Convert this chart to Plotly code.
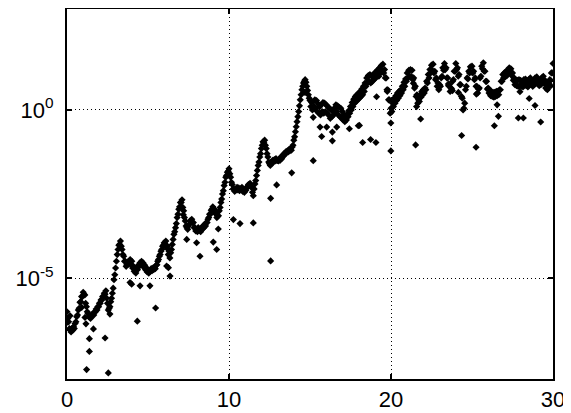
import plotly.graph_objects as go

# main band: x = 0.0, 0.1, ..., 30.0 ; values are log10 of the plotted quantity
main_x = [round(0.1 * i, 2) for i in range(301)]
main_log10 = [
    -6.0, -6.3, -6.55, -6.5, -6.45, -6.35, -6.15, -5.95, -5.72, -5.55,
    -5.42, -5.5, -5.85, -6.05, -6.12, -6.1, -6.07, -6.0, -5.92, -5.85,
    -5.75, -5.65, -5.55, -5.45, -5.38, -5.75, -5.9, -5.7, -5.45, -5.05,
    -4.7, -4.3, -4.02, -3.9, -4.15, -4.35, -4.5, -4.6, -4.5, -4.45,
    -4.5, -4.65, -4.72, -4.75, -4.62, -4.55, -4.5, -4.55, -4.62, -4.7,
    -4.75, -4.78, -4.72, -4.7, -4.68, -4.62, -4.5, -4.35, -4.2, -4.05,
    -3.95, -3.9, -4.05, -4.2, -4.25, -4.0, -3.7, -3.5, -3.2, -2.95,
    -2.75, -2.67, -3.0, -3.3, -3.5, -3.45, -3.3, -3.25, -3.35, -3.5,
    -3.55, -3.5, -3.55, -3.5, -3.45, -3.4, -3.35, -3.25, -3.1, -2.98,
    -2.88, -2.95, -3.1, -3.15, -3.0, -2.75, -2.5, -2.25, -2.0, -1.85,
    -1.75, -2.0, -2.22, -2.35, -2.38, -2.3, -2.32, -2.35, -2.3, -2.38,
    -2.4, -2.3, -2.22, -2.18, -2.3, -2.55, -2.2, -1.95, -1.65, -1.4,
    -1.15, -0.95, -0.9, -1.15, -1.4, -1.6, -1.55, -1.5, -1.48, -1.45,
    -1.5, -1.45, -1.42, -1.35, -1.3, -1.25, -1.22, -1.18, -1.15, -1.1,
    -0.9, -0.65, -0.35, -0.05, 0.3, 0.6, 0.8, 0.9, 0.7, 0.45,
    0.28, 0.22, 0.25, 0.3, 0.28, 0.18, 0.1, 0.15, 0.22, 0.2,
    0.15, 0.1, 0.05, 0.0, -0.02, 0.05, 0.15, 0.12, 0.08, 0.05,
    -0.05, -0.15, -0.2, -0.12, -0.02, 0.1, 0.22, 0.32, 0.4, 0.45,
    0.5, 0.55, 0.62, 0.7, 0.8, 0.95, 1.02, 1.05, 1.0, 1.05,
    1.1, 1.15, 1.2, 1.25, 1.32, 1.36, 1.2, 0.95, 0.6, 0.3,
    0.05, 0.2, 0.35, 0.42, 0.5, 0.55, 0.6, 0.7, 0.82, 0.92,
    1.1, 1.18, 1.2, 1.18, 0.95, 0.7, 0.45, 0.3, 0.45, 0.55,
    0.6, 0.65, 0.85, 1.05, 1.2, 1.33, 1.36, 1.15, 0.95, 0.8,
    0.75, 0.95, 1.25, 1.38, 1.25, 0.95, 0.75, 0.65, 0.85, 1.15,
    1.38, 1.25, 1.05, 0.75, 0.35, 0.05, 0.6, 0.95, 1.15, 1.28,
    1.3, 1.15, 0.95, 0.7, 0.62, 0.95, 1.3, 1.4, 1.15, 0.85,
    0.65, 0.57, 0.55, 0.52, 0.52, 0.55, 0.55, 0.6, 0.85, 1.05,
    1.1, 1.15, 1.18, 1.25, 1.22, 1.1, 0.95, 0.9, 0.88, 0.9,
    0.88, 0.85, 0.9, 0.92, 0.85, 0.9, 0.95, 0.88, 0.85, 0.95,
    0.98, 0.9, 0.85, 0.95, 1.0, 0.88, 0.72, 0.8, 0.9, 1.1,
    1.38,
]

# second band: x = 0.05, 0.15, ..., 29.95
band_x = [round(0.05 + 0.1 * i, 2) for i in range(300)]
band_log10 = [
    -6.2, -6.5, -6.6, -6.55, -6.5, -6.3, -6.1, -5.9, -5.7, -5.55,
    -5.48, -5.75, -6.0, -6.15, -6.2, -6.12, -6.1, -6.0, -5.95, -5.85,
    -5.75, -5.65, -5.55, -5.48, -5.6, -5.95, -5.85, -5.6, -5.3, -4.9,
    -4.5, -4.15, -4.0, -4.05, -4.3, -4.5, -4.65, -4.6, -4.55, -4.6,
    -4.7, -4.8, -4.85, -4.75, -4.65, -4.6, -4.62, -4.68, -4.75, -4.82,
    -4.85, -4.8, -4.78, -4.75, -4.72, -4.6, -4.45, -4.3, -4.15, -4.02,
    -4.0, -4.1, -4.3, -4.4, -4.15, -3.85, -3.62, -3.38, -3.1, -2.88,
    -2.75, -2.9, -3.2, -3.45, -3.55, -3.4, -3.3, -3.35, -3.5, -3.6,
    -3.62, -3.58, -3.62, -3.55, -3.5, -3.45, -3.35, -3.2, -3.1, -2.95,
    -2.95, -3.05, -3.2, -3.15, -2.9, -2.65, -2.4, -2.15, -1.95, -1.82,
    -1.9, -2.15, -2.35, -2.42, -2.38, -2.38, -2.4, -2.38, -2.42, -2.45,
    -2.38, -2.28, -2.25, -2.28, -2.45, -2.35, -2.1, -1.8, -1.55, -1.3,
    -1.05, -0.98, -1.05, -1.3, -1.55, -1.65, -1.58, -1.55, -1.52, -1.5,
    -1.52, -1.5, -1.45, -1.38, -1.32, -1.28, -1.25, -1.22, -1.2, -1.05,
    -0.8, -0.5, -0.2, 0.12, 0.45, 0.7, 0.85, 0.82, 0.58, 0.35,
    0.1, 0.0, 0.1, 0.05, -0.05, -0.1, -0.15, -0.05, -0.1, -0.05,
    -0.1, -0.15, -0.25, -0.2, -0.15, -0.1, -0.05, -0.15, -0.2, -0.25,
    -0.3, -0.35, -0.3, -0.2, -0.1, 0.0, 0.1, 0.2, 0.25, 0.3,
    0.35, 0.4, 0.45, 0.55, 0.7, 0.8, 0.85, 0.8, 0.85, 0.9,
    0.95, 1.0, 1.0, 1.1, 1.15, 1.1, 0.95, 0.6, 0.3, -0.1,
    -0.05, 0.1, 0.2, 0.28, 0.35, 0.42, 0.5, 0.6, 0.7, 0.85,
    0.95, 1.0, 1.0, 0.9, 0.65, 0.4, 0.2, 0.25, 0.38, 0.45,
    0.5, 0.6, 0.8, 0.95, 1.1, 1.18, 1.1, 0.9, 0.7, 0.6,
    0.7, 1.0, 1.18, 1.2, 0.95, 0.72, 0.55, 0.62, 0.9, 1.15,
    1.2, 1.0, 0.75, 0.4, 0.0, 0.2, 0.7, 0.92, 1.1, 1.12,
    1.1, 0.9, 0.7, 0.5, 0.65, 1.0, 1.22, 1.15, 0.85, 0.62,
    0.5, 0.42, 0.4, 0.38, 0.4, 0.42, 0.45, 0.6, 0.85, 0.95,
    0.98, 1.02, 1.08, 1.1, 1.02, 0.88, 0.75, 0.72, 0.7, 0.72,
    0.7, 0.68, 0.75, 0.72, 0.68, 0.75, 0.78, 0.7, 0.75, 0.8,
    0.8, 0.72, 0.75, 0.82, 0.8, 0.65, 0.6, 0.72, 0.88, 1.1,
]

# scattered lower points
outlier_x = [
    1.21, 2.55, 1.38, 1.38, 2.35, 1.63, 1.17, 2.65, 4.34, 5.47,
    3.99, 4.51, 6.36, 8.21, 8.0, 9.03, 9.24, 9.34, 10.27, 10.68,
    11.5, 12.57, 12.57, 12.94, 13.87, 7.39, 7.18, 6.15, 6.26, 3.89,
    5.12, 0.91, 1.11, 0.02, 0.19,
    15.2, 15.72, 16.38, 15.62, 16.03, 16.38, 16.65, 17.43, 18.05, 18.25,
    18.74, 19.07, 19.99, 19.99, 21.52, 21.83, 24.36, 25.25, 26.38, 26.63,
    27.86, 28.17, 29.24, 28.89, 28.53, 27.96, 17.98, 19.11, 19.77, 21.38,
    21.58, 23.54, 23.79, 25.27, 24.16, 26.55, 29.66, 29.87, 15.2, 14.69,
]
outlier_log10 = [
    -7.72, -7.82, -7.18, -6.8, -6.78, -6.51, -6.36, -6.07, -6.28, -5.89,
    -5.18, -5.23, -4.94, -4.35, -3.95, -3.93, -4.15, -3.54, -3.26, -3.38,
    -3.36, -4.49, -2.63, -2.23, -1.87, -3.85, -3.12, -4.64, -4.69, -5.13,
    -5.23, -5.87, -6.17, -6.31, -6.12,
    -1.51, -0.79, -0.92, -0.51, -0.51, -0.66, -0.51, -0.56, -0.46, -0.97,
    -0.88, -0.97, -1.22, -0.39, -1.04, -0.27, -0.76, -1.11, -0.47, -0.19,
    -0.24, -0.24, -0.36, 0.13, 0.34, 0.54, -0.47, 0.39, 0.55, 0.79,
    0.10, 0.77, 0.57, 0.47, 0.52, 0.15, 0.62, 0.72, -0.22, 0.52,
]

x_ticks = [0, 10, 20, 30]
x_tick_labels = ["0", "10", "20", "30"]
y_ticks = [1e-5, 1e0]
y_tick_labels = ["10<sup>-5</sup>", "10<sup>0</sup>"]

all_x = main_x + band_x + outlier_x
all_y = [10 ** v for v in main_log10 + band_log10 + outlier_log10]

fig = go.Figure()
fig.add_trace(go.Scatter(
    x=all_x, y=all_y, mode="markers",
    marker=dict(symbol="diamond", size=5.5, color="black", line=dict(width=0)),
    showlegend=False, hoverinfo="skip",
))

axis_common = dict(
    showline=True, linecolor="black", linewidth=2, mirror="ticks",
    ticks="inside", ticklen=5, tickwidth=2, tickcolor="black",
    showgrid=True, gridcolor="black", gridwidth=1, griddash="1px,3px",
    zeroline=False, automargin=False,
    tickfont=dict(family="Liberation Sans, Arial, sans-serif", size=22, color="black"),
)

# the page body adds an 8px offset, so the figure is 8px smaller than the window
fig.update_layout(
    width=563, height=405,
    margin=dict(l=59, r=18, t=1, b=34),
    paper_bgcolor="white", plot_bgcolor="white",
    xaxis=dict(range=[0, 30], tickvals=x_ticks, ticktext=x_tick_labels,
               ticklabelstandoff=0, **axis_common),
    yaxis=dict(type="log", range=[-8, 3], tickvals=y_ticks, ticktext=y_tick_labels,
               ticklabelstandoff=7, **axis_common),
)

fig.write_html("out.html")
